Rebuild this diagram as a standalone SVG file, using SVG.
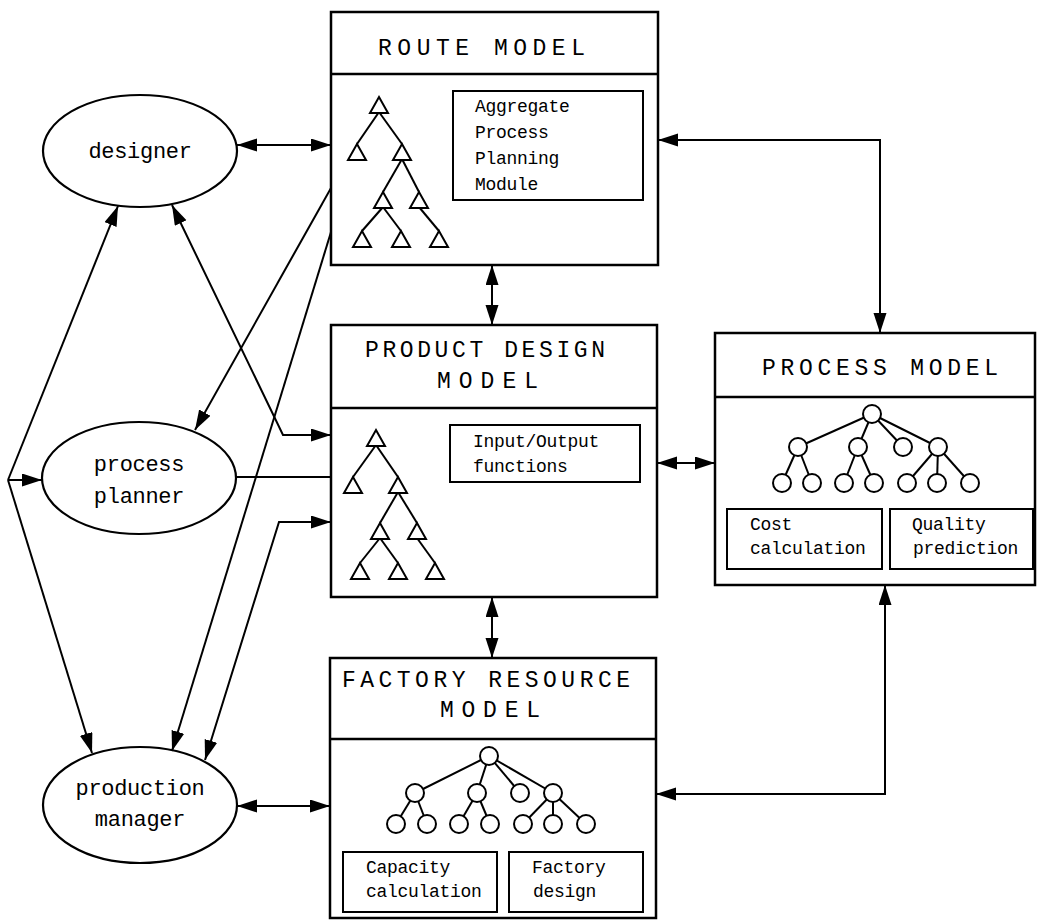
<svg xmlns="http://www.w3.org/2000/svg" xmlns:xlink="http://www.w3.org/1999/xlink" width="1040" height="923" viewBox="0 0 1040 923">
  <style>
    .box { fill: #fff; stroke: #000; stroke-width: 2.5; }
    .inner { fill: none; stroke: #000; stroke-width: 2; }
    .sep { stroke: #000; stroke-width: 2.5; }
    .actor { fill: #fff; stroke: #000; stroke-width: 2.2; }
    .title { font-family: "Liberation Mono", "Courier New", monospace; font-size: 23px; fill: #000; }
    .label { font-family: "Liberation Mono", "Courier New", monospace; font-size: 22px; fill: #000; text-anchor: middle; letter-spacing: -0.3px; }
    .note { font-family: "Liberation Mono", "Courier New", monospace; font-size: 18px; fill: #000; letter-spacing: -0.3px; }
    .tree line { stroke: #000; stroke-width: 2; }
    .tree use { fill: #fff; stroke: #000; stroke-width: 2; }
    .tree circle { fill: #fff; stroke: #000; stroke-width: 2; }
    .link { fill: none; stroke: #000; stroke-width: 2; }
    .both { marker-start: url(#head); marker-end: url(#head); }
    .end { marker-end: url(#head); }
  </style>
  <defs>
    <marker id="head" markerUnits="userSpaceOnUse" markerWidth="22" markerHeight="14" refX="20" refY="6.5" orient="auto-start-reverse">
      <path d="M0,0 L20,6.5 L0,13 Z" fill="#000"/>
    </marker>
    <path id="tri" d="M0,0 L9,16 L-9,16 Z"/>
  </defs>

  <rect width="1040" height="923" fill="#fff"/>

  <!-- actors -->
  <g id="designer">
    <ellipse class="actor" cx="140" cy="151" rx="97" ry="56"/>
    <text class="label" x="140" y="158">designer</text>
  </g>
  <g id="process-planner">
    <ellipse class="actor" cx="139" cy="478" rx="97" ry="56"/>
    <text class="label" x="139" y="471">process</text>
    <text class="label" x="139" y="503">planner</text>
  </g>
  <g id="production-manager">
    <ellipse class="actor" cx="140" cy="805" rx="97" ry="58"/>
    <text class="label" x="140" y="795">production</text>
    <text class="label" x="140" y="826">manager</text>
  </g>

  <!-- route model -->
  <g id="route-model">
    <rect class="box" x="331" y="12" width="327" height="253"/>
    <line class="sep" x1="331" y1="74" x2="658" y2="74"/>
    <text class="title" x="378" y="55" textLength="207" lengthAdjust="spacing">ROUTE MODEL</text>
    <g class="tree">
      <line x1="379" y1="112" x2="357" y2="144"/>
      <line x1="379" y1="112" x2="402" y2="144"/>
      <line x1="402" y1="159" x2="383" y2="192"/>
      <line x1="402" y1="159" x2="419" y2="192"/>
      <line x1="383" y1="207" x2="362" y2="231"/>
      <line x1="383" y1="207" x2="401" y2="231"/>
      <line x1="419" y1="207" x2="439" y2="231"/>
      <use xlink:href="#tri" x="379" y="97"/>
      <use xlink:href="#tri" x="357" y="144"/>
      <use xlink:href="#tri" x="402" y="144"/>
      <use xlink:href="#tri" x="383" y="192"/>
      <use xlink:href="#tri" x="419" y="192"/>
      <use xlink:href="#tri" x="362" y="231"/>
      <use xlink:href="#tri" x="401" y="231"/>
      <use xlink:href="#tri" x="439" y="231"/>
    </g>
    <rect class="inner" x="453" y="91" width="190" height="109"/>
    <text class="note" x="475" y="112">Aggregate</text>
    <text class="note" x="475" y="138">Process</text>
    <text class="note" x="475" y="164">Planning</text>
    <text class="note" x="475" y="190">Module</text>
  </g>

  <!-- product design model -->
  <g id="product-design-model">
    <rect class="box" x="331" y="325" width="326" height="272"/>
    <line class="sep" x1="331" y1="408" x2="657" y2="408"/>
    <text class="title" x="365" y="357" textLength="240" lengthAdjust="spacing">PRODUCT DESIGN</text>
    <text class="title" x="437" y="388" textLength="101" lengthAdjust="spacing">MODEL</text>
    <g class="tree">
      <line x1="376" y1="445" x2="353" y2="477"/>
      <line x1="376" y1="445" x2="398" y2="477"/>
      <line x1="398" y1="492" x2="380" y2="523"/>
      <line x1="398" y1="492" x2="417" y2="523"/>
      <line x1="380" y1="538" x2="360" y2="563"/>
      <line x1="380" y1="538" x2="398" y2="563"/>
      <line x1="417" y1="538" x2="435" y2="563"/>
      <use xlink:href="#tri" x="376" y="430"/>
      <use xlink:href="#tri" x="353" y="477"/>
      <use xlink:href="#tri" x="398" y="477"/>
      <use xlink:href="#tri" x="380" y="523"/>
      <use xlink:href="#tri" x="417" y="523"/>
      <use xlink:href="#tri" x="360" y="563"/>
      <use xlink:href="#tri" x="398" y="563"/>
      <use xlink:href="#tri" x="435" y="563"/>
    </g>
    <rect class="inner" x="450" y="425" width="190" height="57"/>
    <text class="note" x="473" y="447">Input/Output</text>
    <text class="note" x="473" y="472">functions</text>
  </g>

  <!-- process model -->
  <g id="process-model">
    <rect class="box" x="715" y="333" width="320" height="252"/>
    <line class="sep" x1="715" y1="397" x2="1035" y2="397"/>
    <text class="title" x="762" y="375" textLength="236" lengthAdjust="spacing">PROCESS MODEL</text>
    <g class="tree">
      <line x1="872" y1="414" x2="798" y2="447"/>
      <line x1="872" y1="414" x2="858" y2="447"/>
      <line x1="872" y1="414" x2="903" y2="447"/>
      <line x1="872" y1="414" x2="938" y2="447"/>
      <line x1="798" y1="447" x2="782" y2="483"/>
      <line x1="798" y1="447" x2="812" y2="483"/>
      <line x1="858" y1="447" x2="844" y2="483"/>
      <line x1="858" y1="447" x2="874" y2="483"/>
      <line x1="938" y1="447" x2="907" y2="483"/>
      <line x1="938" y1="447" x2="937" y2="483"/>
      <line x1="938" y1="447" x2="970" y2="483"/>
      <circle cx="872" cy="414" r="9"/>
      <circle cx="798" cy="447" r="9"/>
      <circle cx="858" cy="447" r="9"/>
      <circle cx="903" cy="447" r="9"/>
      <circle cx="938" cy="447" r="9"/>
      <circle cx="782" cy="483" r="9"/>
      <circle cx="812" cy="483" r="9"/>
      <circle cx="844" cy="483" r="9"/>
      <circle cx="874" cy="483" r="9"/>
      <circle cx="907" cy="483" r="9"/>
      <circle cx="937" cy="483" r="9"/>
      <circle cx="970" cy="483" r="9"/>
    </g>
    <rect class="inner" x="727" y="509" width="155" height="60"/>
    <text class="note" x="750" y="530">Cost</text>
    <text class="note" x="750" y="554">calculation</text>
    <rect class="inner" x="890" y="509" width="143" height="60"/>
    <text class="note" x="912" y="530">Quality</text>
    <text class="note" x="913" y="554">prediction</text>
  </g>

  <!-- factory resource model -->
  <g id="factory-resource-model">
    <rect class="box" x="330" y="658" width="326" height="260"/>
    <line class="sep" x1="330" y1="739" x2="656" y2="739"/>
    <text class="title" x="342" y="687" textLength="288" lengthAdjust="spacing">FACTORY RESOURCE</text>
    <text class="title" x="440" y="717" textLength="100" lengthAdjust="spacing">MODEL</text>
    <g class="tree">
      <line x1="489" y1="756" x2="415" y2="793"/>
      <line x1="489" y1="756" x2="477" y2="793"/>
      <line x1="489" y1="756" x2="520" y2="793"/>
      <line x1="489" y1="756" x2="553" y2="793"/>
      <line x1="415" y1="793" x2="396" y2="824"/>
      <line x1="415" y1="793" x2="427" y2="824"/>
      <line x1="477" y1="793" x2="459" y2="824"/>
      <line x1="477" y1="793" x2="490" y2="824"/>
      <line x1="553" y1="793" x2="523" y2="824"/>
      <line x1="553" y1="793" x2="553" y2="824"/>
      <line x1="553" y1="793" x2="586" y2="824"/>
      <circle cx="489" cy="756" r="9"/>
      <circle cx="415" cy="793" r="9"/>
      <circle cx="477" cy="793" r="9"/>
      <circle cx="520" cy="793" r="9"/>
      <circle cx="553" cy="793" r="9"/>
      <circle cx="396" cy="824" r="9"/>
      <circle cx="427" cy="824" r="9"/>
      <circle cx="459" cy="824" r="9"/>
      <circle cx="490" cy="824" r="9"/>
      <circle cx="523" cy="824" r="9"/>
      <circle cx="553" cy="824" r="9"/>
      <circle cx="586" cy="824" r="9"/>
    </g>
    <rect class="inner" x="343" y="852" width="154" height="60"/>
    <text class="note" x="366" y="873">Capacity</text>
    <text class="note" x="366" y="897">calculation</text>
    <rect class="inner" x="509" y="852" width="134" height="60"/>
    <text class="note" x="532" y="873">Factory</text>
    <text class="note" x="533" y="897">design</text>
  </g>

  <!-- connectors -->
  <g id="connectors">
    <!-- designer <-> route model -->
    <line class="link both" x1="237" y1="145" x2="331" y2="145"/>
    <!-- designer <-> product design model -->
    <polyline class="link both" points="172,205 283,435 331,435"/>
    <!-- route model -> process planner -->
    <line class="link end" x1="331" y1="188" x2="195" y2="430"/>
    <!-- route model -> production manager -->
    <line class="link end" x1="331" y1="232" x2="172" y2="751"/>
    <!-- process planner to product design model -->
    <line class="link" x1="236" y1="477" x2="331" y2="477"/>
    <!-- product design model <-> production manager -->
    <polyline class="link both" points="205,760 279,522 331,522"/>
    <!-- left fan-out from the process planner side -->
    <line class="link end" x1="8" y1="480" x2="118" y2="206"/>
    <line class="link end" x1="8" y1="480" x2="42" y2="480"/>
    <line class="link end" x1="8" y1="480" x2="92" y2="753"/>
    <!-- production manager <-> factory resource model -->
    <line class="link both" x1="237" y1="806" x2="330" y2="806"/>
    <!-- route <-> product design -->
    <line class="link both" x1="492" y1="265" x2="492" y2="325"/>
    <!-- product design <-> factory resource -->
    <line class="link both" x1="492" y1="597" x2="492" y2="658"/>
    <!-- product design <-> process -->
    <line class="link both" x1="657" y1="463" x2="715" y2="463"/>
    <!-- route <-> process -->
    <polyline class="link both" points="658,140 880,140 880,333"/>
    <!-- factory resource <-> process -->
    <polyline class="link both" points="656,794 885,794 885,585"/>
  </g>
</svg>
